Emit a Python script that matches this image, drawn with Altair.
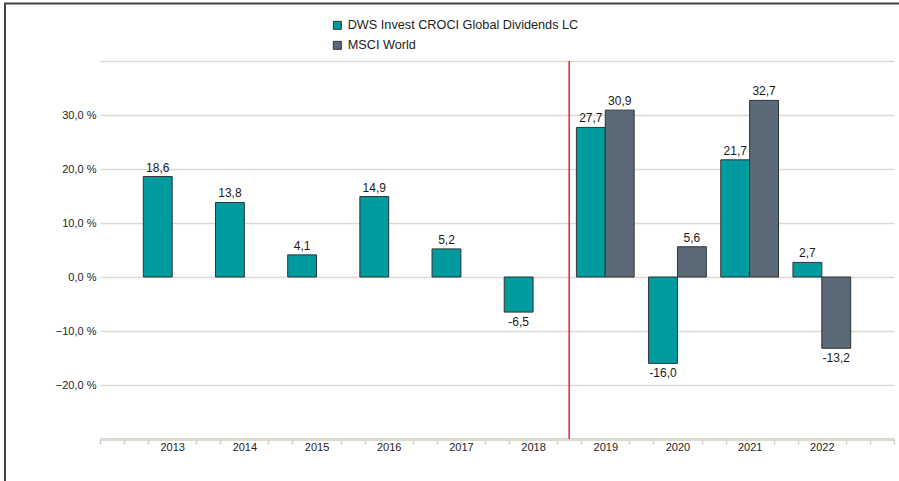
import altair as alt
import pandas as pd

years = [2013, 2014, 2015, 2016, 2017, 2018, 2019, 2020, 2021, 2022]
fund_name = "DWS Invest CROCI Global Dividends LC"
index_name = "MSCI World"
fund_values = [18.6, 13.8, 4.1, 14.9, 5.2, -6.5, 27.7, -16.0, 21.7, 2.7]
index_years = [2019, 2020, 2021, 2022]
index_values = [30.9, 5.6, 32.7, -13.2]
y_ticks = [-30, -20, -10, 0, 10, 20, 30, 40]
x_ticks = [round(2012 + i / 3, 4) for i in range(0, 34)]
divider = [2018.5]

rows = []
for y, v in zip(years, fund_values):
    rows.append({"year": y, "series": fund_name, "value": v, "x0": y - 0.4, "x1": y})
for y, v in zip(index_years, index_values):
    rows.append({"year": y, "series": index_name, "value": v, "x0": y, "x1": y + 0.4})
df = pd.DataFrame(rows)
df["xm"] = (df["x0"] + df["x1"]) / 2
df["label"] = df["value"].map(lambda v: f"{v:.1f}".replace(".", ","))

FONT = "Liberation Sans"
xscale = alt.Scale(domain=[2012, 2023], nice=False, zero=False)
yscale = alt.Scale(domain=[-30, 40], nice=False)

int_test = "datum.value % 1 == 0 && datum.value > 2012 && datum.value < 2023"

x_axis = alt.Axis(values=x_ticks, grid=False, domainColor="#dcd9d0",
                  domainWidth=3, tickColor="#d3d0c8", tickWidth=1.5,
                  tickSize=5,
                  tickOpacity={"condition": {"test": int_test, "value": 0}, "value": 1},
                  labelExpr=f"({int_test}) ? format(datum.value, 'd') : ''",
                  labelFont=FONT, labelFontSize=11, labelColor="#1e1e1e",
                  labelPadding=-3, labelFlush=False, labelOverlap=False,
                  labelBound=False)
y_axis = alt.Axis(values=y_ticks, grid=True, gridColor="#dddad3", gridWidth=1.5,
                  domain=False, ticks=False, tickSize=0, labelPadding=4,
                  labelExpr="(datum.value >= 40 || datum.value <= -30) ? '' : replace(format(datum.value, '.1f'), '.', ',') + ' %'",
                  labelFont=FONT, labelFontSize=11, labelColor="#1e1e1e",
                  labelOverlap=False)

base = alt.Chart(df)

bars = base.mark_bar(stroke="#2e3436", strokeWidth=1).encode(
    x=alt.X("x0:Q", scale=xscale, title=None, axis=x_axis),
    x2="x1:Q",
    y=alt.Y("value:Q", scale=yscale, title=None, axis=y_axis),
    y2=alt.datum(0),
    color=alt.Color("series:N", scale=alt.Scale(domain=[fund_name, index_name],
                                                range=["#009b9e", "#5b6a76"]),
                    legend=alt.Legend(title=None, orient="none", legendX=231, legendY=-42,
                                      symbolType="square", symbolSize=64,
                                      symbolStrokeColor="#2e3436", symbolStrokeWidth=1,
                                      labelFont=FONT, labelFontSize=12.7, labelColor="#1e1e1e",
                                      labelOffset=4, rowPadding=6, padding=0, labelLimit=400)),
)

pos_text = base.transform_filter("datum.value >= 0").mark_text(
    baseline="alphabetic", dy=-5, font=FONT, fontSize=12, color="#1a1a1a"
).encode(x=alt.X("xm:Q", scale=xscale, title=None, axis=x_axis),
         y=alt.Y("value:Q", scale=yscale, title=None, axis=y_axis), text="label:N")

neg_text = base.transform_filter("datum.value < 0").mark_text(
    baseline="top", dy=5, font=FONT, fontSize=12, color="#1a1a1a"
).encode(x=alt.X("xm:Q", scale=xscale, title=None, axis=x_axis),
         y=alt.Y("value:Q", scale=yscale, title=None, axis=y_axis), text="label:N")

red = alt.Chart(pd.DataFrame({"x": divider})).mark_rule(color="#e8232b", strokeWidth=1.5).encode(
    x=alt.X("x:Q", scale=xscale, title=None, axis=x_axis), y=alt.value(0), y2=alt.value(378)
)

frame_left = alt.Chart(pd.DataFrame({"a": [0]})).mark_rule(color="#444444", strokeWidth=2).encode(
    x=alt.value(-95), y=alt.value(-58), y2=alt.value(420)
)
frame_top = alt.Chart(pd.DataFrame({"a": [0]})).mark_rule(color="#444444", strokeWidth=2).encode(
    x=alt.value(-96), x2=alt.value(799), y=alt.value(-57.5)
)

chart = alt.layer(bars, pos_text, neg_text, red, frame_left, frame_top).properties(
    width=794, height=378,
    background="white",
    autosize=alt.AutoSizeParams(type="none"),
    padding={"left": 100, "top": 61, "right": 5, "bottom": 42},
).configure_view(stroke="transparent", strokeWidth=0)

chart.save("out.html", embed_options={"renderer": "svg", "actions": False})
